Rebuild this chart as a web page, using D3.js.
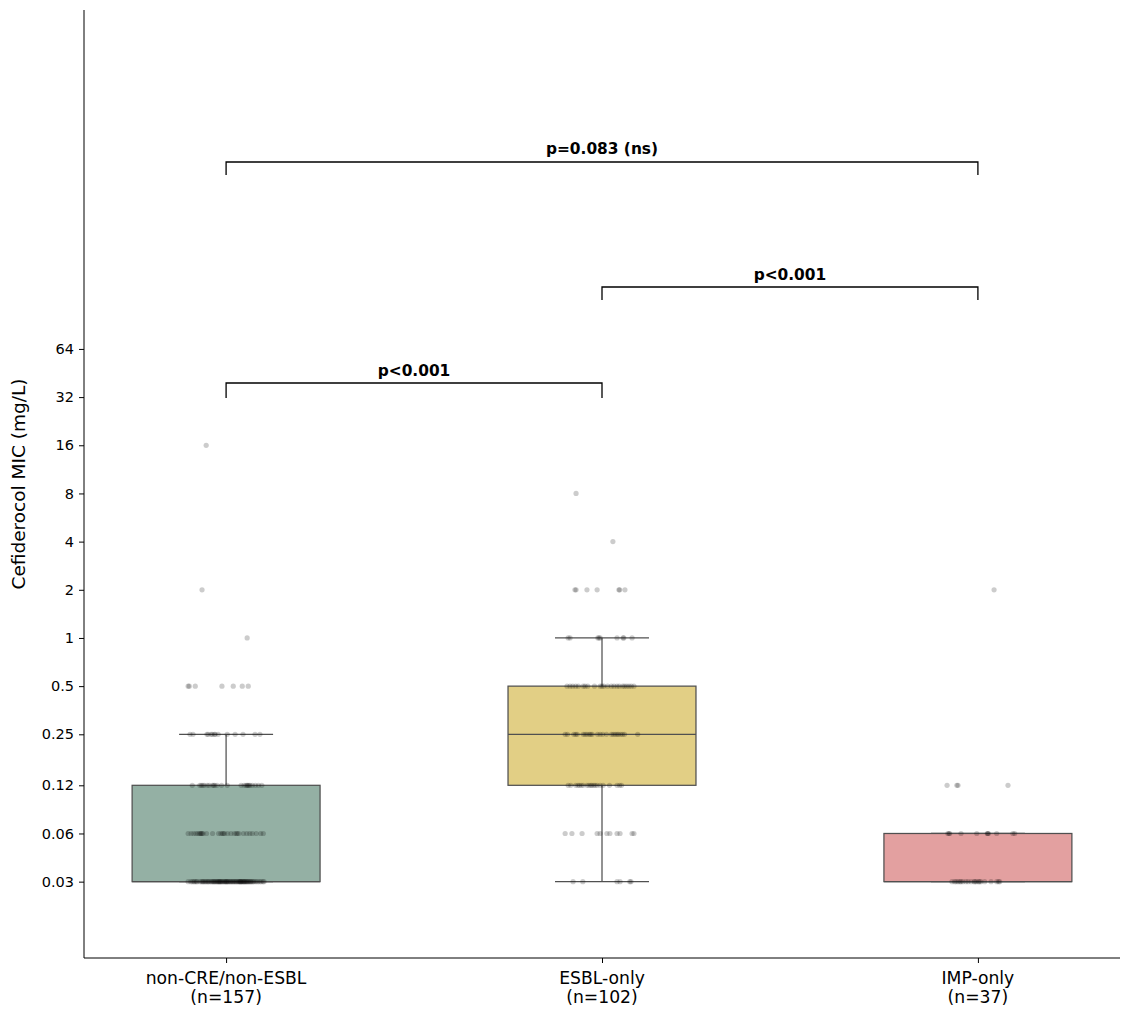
<!DOCTYPE html>
<html><head><meta charset="utf-8">
<script src="https://cdn.jsdelivr.net/npm/d3@7"></script>
<style>body{margin:0;background:#fff;} svg{display:block;}</style>
</head><body>
<svg id="chart" width="1132" height="1016"></svg>
<script>
// ---- data ----
const categories = ["non-CRE/non-ESBL", "ESBL-only", "IMP-only"];
const groupN = [157, 102, 37];
const boxColors = ["#94b0a4", "#e2cf85", "#e3a0a0"];
const yTickValues = [0.03, 0.06, 0.12, 0.25, 0.5, 1, 2, 4, 8, 16, 32, 64];
const yTickLabels = ["0.03", "0.06", "0.12", "0.25", "0.5", "1", "2", "4", "8", "16", "32", "64"];
// jitter offsets (category units) of each isolate, keyed by MIC value
const g1Points = {
  0.03: [-0.101,-0.094,-0.090,-0.083,-0.079,-0.077,-0.070,-0.066,-0.061,-0.058,-0.055,-0.052,-0.049,-0.047,-0.044,-0.040,-0.038,-0.035,-0.031,-0.029,-0.026,-0.024,-0.022,-0.020,-0.018,-0.015,-0.013,-0.011,-0.009,-0.006,-0.004,-0.002,0.000,0.003,0.005,0.007,0.010,0.012,0.014,0.017,0.019,0.021,0.024,0.026,0.028,0.031,0.033,0.035,0.037,0.039,0.041,0.043,0.045,0.047,0.048,0.050,0.052,0.054,0.056,0.058,0.060,0.063,0.065,0.067,0.070,0.073,0.076,0.080,0.084,0.089,0.093,0.098,0.101,-0.086,-0.063,-0.033,-0.017,0.001,0.038],
  0.06: [-0.101,-0.093,-0.086,-0.080,-0.075,-0.071,-0.068,-0.066,-0.064,-0.061,-0.052,-0.036,-0.020,-0.014,-0.010,-0.007,-0.004,0.004,0.013,0.022,0.027,0.030,0.034,0.046,0.055,0.063,0.070,0.080,0.092,0.099],
  0.12: [-0.090,-0.070,-0.066,-0.062,-0.058,-0.045,-0.036,-0.033,-0.030,-0.024,-0.012,0.003,0.040,0.048,0.053,0.056,0.058,0.061,0.064,0.070,0.078,0.086,0.095,-0.050],
  0.25: [-0.096,-0.088,-0.051,-0.037,-0.029,-0.021,0.003,0.024,0.045,0.077,0.090,-0.040,-0.031,-0.048],
  0.5: [-0.101,-0.098,-0.082,-0.011,0.019,0.043,0.059],
  1: [0.056],
  2: [-0.064],
  16: [-0.053]
};
const g2Points = {
  0.03: [-0.077,-0.051,0.040,0.048,0.074,0.077],
  0.06: [-0.098,-0.080,-0.053,-0.013,-0.005,0.013,0.021,0.040,0.048,0.080,0.085],
  0.12: [-0.090,-0.083,-0.070,-0.064,-0.055,-0.050,-0.040,-0.035,-0.030,-0.027,-0.022,-0.018,-0.013,-0.005,0.003,0.020,0.040,0.047,0.052,-0.060],
  0.25: [-0.098,-0.092,-0.075,-0.070,-0.066,-0.050,-0.045,-0.040,-0.034,-0.030,-0.026,-0.012,-0.005,0.002,0.012,0.025,0.030,0.035,0.040,0.044,0.050,0.055,0.060,0.095],
  0.5: [-0.093,-0.085,-0.078,-0.070,-0.063,-0.050,-0.038,-0.020,-0.005,0.000,0.005,0.015,0.025,0.032,0.040,0.046,0.055,0.060,0.066,0.072,0.078,0.085,-0.045],
  1: [-0.085,-0.011,-0.008,-0.005,0.040,0.056,0.058,0.080,-0.090],
  2: [-0.072,-0.069,-0.040,-0.013,0.045,0.047,0.061],
  4: [0.029],
  8: [-0.069]
};
const g3Points = {
  0.03: [-0.069,-0.062,-0.058,-0.053,-0.048,-0.045,-0.040,-0.032,-0.026,-0.018,-0.010,-0.008,-0.004,0.002,0.004,0.008,0.018,0.035,0.050,0.055,0.058],
  0.06: [-0.077,-0.075,-0.045,-0.003,0.025,0.028,0.026,0.050,0.093,0.098,-0.080],
  0.12: [-0.082,-0.056,-0.053,0.080],
  2: [0.043]
};
// significance brackets: [from, to, base, top, label]
const brackets = [
  [0, 1, 31.6, 39.2, "p<0.001"],
  [1, 2, 129.5, 156, "p<0.001"],
  [0, 2, 782, 943, "p=0.083 (ns)"]
];
const yDomain = [0.01, 8400];
const yLabel = "Cefiderocol MIC (mg/L)";

// ---- layout ----
const svg = d3.select("#chart");
const L = 84, R = 1120, T = 10, B = 958;
const x = d3.scaleLinear().domain([-0.378, 2.378]).range([L, R]);
const y = d3.scaleLog().base(2).domain(yDomain).range([B, T]);
const unit = x(1) - x(0);
const edge = "#505050";

const groups = [g1Points, g2Points, g3Points];

groups.forEach((g, i) => {
  const vals = [];
  Object.keys(g).forEach(k => g[k].forEach(() => vals.push(+k)));
  vals.sort((a, b) => a - b);
  const q1 = d3.quantile(vals, 0.25), med = d3.quantile(vals, 0.5), q3 = d3.quantile(vals, 0.75);
  const iqr = q3 - q1;
  const lo = d3.min(vals.filter(v => v >= q1 - 1.5 * iqr));
  const hi = d3.max(vals.filter(v => v <= q3 + 1.5 * iqr));
  const cx = x(i), hw = unit * 0.25, cw = unit * 0.125;
  const gg = svg.append("g");
  gg.append("line").attr("x1", cx).attr("x2", cx).attr("y1", y(q3)).attr("y2", y(hi)).attr("stroke", edge).attr("stroke-width", 1.25);
  gg.append("line").attr("x1", cx).attr("x2", cx).attr("y1", y(q1)).attr("y2", y(lo)).attr("stroke", edge).attr("stroke-width", 1.25);
  gg.append("line").attr("x1", cx - cw).attr("x2", cx + cw).attr("y1", y(hi)).attr("y2", y(hi)).attr("stroke", edge).attr("stroke-width", 1.25);
  gg.append("line").attr("x1", cx - cw).attr("x2", cx + cw).attr("y1", y(lo)).attr("y2", y(lo)).attr("stroke", edge).attr("stroke-width", 1.25);
  gg.append("rect").attr("x", cx - hw).attr("width", 2 * hw)
    .attr("y", y(q3)).attr("height", y(q1) - y(q3))
    .attr("fill", boxColors[i]).attr("stroke", edge).attr("stroke-width", 1.25);
  gg.append("line").attr("x1", cx - hw).attr("x2", cx + hw).attr("y1", y(med)).attr("y2", y(med)).attr("stroke", edge).attr("stroke-width", 1.25);
});

// points
groups.forEach((g, i) => {
  const pts = [];
  Object.keys(g).forEach(k => g[k].forEach(o => pts.push({v: +k, o})));
  svg.append("g").selectAll("circle").data(pts).join("circle")
    .attr("cx", d => x(i + d.o)).attr("cy", d => y(d.v)).attr("r", 2.6)
    .attr("fill", "#000").attr("fill-opacity", 0.2);
});

// brackets
brackets.forEach(([a, b, base, top, lab]) => {
  const x1 = x(a), x2 = x(b);
  svg.append("path")
    .attr("d", `M${x1},${y(base)}V${y(top)}H${x2}V${y(base)}`)
    .attr("fill", "none").attr("stroke", "#000").attr("stroke-width", 1.3);
  svg.append("text").attr("x", (x1 + x2) / 2).attr("y", y(top) - 7.5)
    .attr("text-anchor", "middle").attr("font-family", "DejaVu Sans").attr("font-weight", "bold")
    .attr("font-size", 15.4).text(lab);
});

// axes
const yAxis = d3.axisLeft(y).tickValues(yTickValues).tickFormat((d, i) => yTickLabels[i]).tickSizeOuter(0).tickSize(5).tickPadding(5);
const ga = svg.append("g").attr("transform", `translate(${L},0)`).call(yAxis);
ga.selectAll("text").attr("font-family", "DejaVu Sans").attr("font-size", 14.5).attr("fill", "#000");
ga.select(".domain").attr("stroke", "#000").attr("d", `M0,${T}V${B}`);

const xAxis = d3.axisBottom(x).tickValues([0, 1, 2]).tickFormat(() => "").tickSizeOuter(0).tickSize(5);
const gx = svg.append("g").attr("transform", `translate(0,${B})`).call(xAxis);
gx.select(".domain").attr("stroke", "#000").attr("d", `M${L},0H${R}`);
categories.forEach((c, i) => {
  const t = svg.append("text").attr("x", x(i)).attr("y", B + 26).attr("text-anchor", "middle")
    .attr("font-family", "DejaVu Sans").attr("font-size", 17.2).attr("fill", "#000");
  t.append("tspan").attr("x", x(i)).text(c);
  t.append("tspan").attr("x", x(i)).attr("dy", 19).text(`(n=${groupN[i]})`);
});

svg.append("text").attr("transform", `translate(25,${(T + B) / 2}) rotate(-90)`)
  .attr("text-anchor", "middle").attr("font-family", "DejaVu Sans").attr("font-size", 18.5).attr("fill", "#000")
  .text(yLabel);
</script>
</body></html>
